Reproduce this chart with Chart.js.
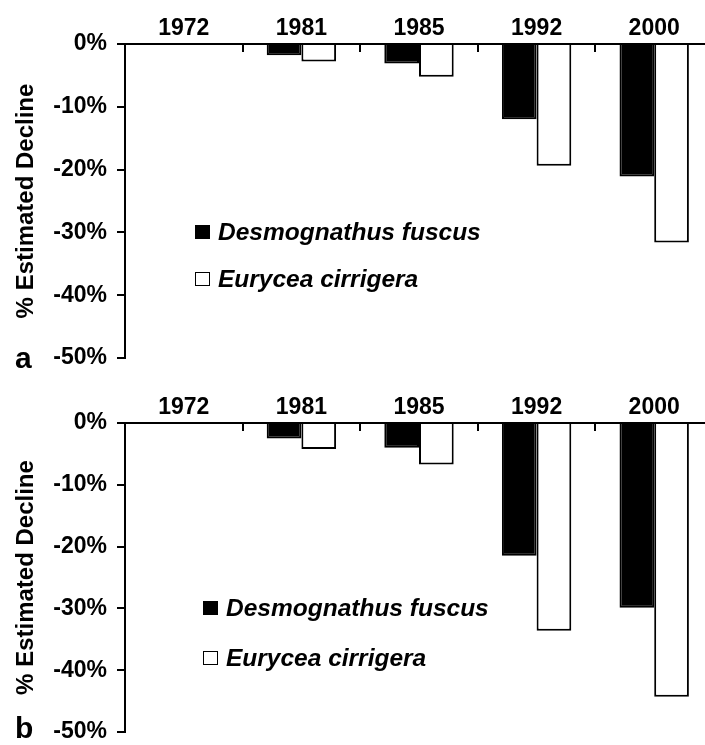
<!DOCTYPE html>
<html><head><meta charset="utf-8">
<script src="https://cdn.jsdelivr.net/npm/chart.js@4"></script>
<style>
html,body{margin:0;padding:0;background:#fff;overflow:hidden;width:705px;height:745px;position:relative;}
.panel{position:absolute;left:0;width:720px;}
canvas{display:block;}
.lbl{position:absolute;font:bold 30px "Liberation Sans",Arial,sans-serif;color:#000;line-height:1;}
.leg{position:absolute;white-space:nowrap;display:flex;align-items:center;height:30px;font:italic bold 24.5px "Liberation Sans",Arial,sans-serif;color:#000;}
.box{width:15px;height:14px;border:1.5px solid #000;box-sizing:border-box;margin-right:8px;flex:none;}
</style>
</head><body>
<div class="panel" style="top:0px;height:372px"><canvas id="cA" width="720" height="372"></canvas></div>
<div class="panel" style="top:372px;height:373px"><canvas id="cB" width="720" height="373"></canvas></div>
<div class="lbl" style="left:15px;top:343px">a</div>
<div class="lbl" style="left:15px;top:713px">b</div>
<div id="legends"></div>
<script>
// ---- data ----
const years = ['1972', '1981', '1985', '1992', '2000'];
const speciesNames = ['Desmognathus fuscus', 'Eurycea cirrigera'];
const fuscusA = [0, -1.8, -3.1, -12.0, -21.1];
const cirrigeraA = [0, -2.8, -5.2, -19.4, -31.6];
const fuscusB = [0, -2.5, -4.0, -21.5, -29.9];
const cirrigeraB = [0, -4.2, -6.7, -33.6, -44.3];
const yTickValues = [0, -10, -20, -30, -40, -50];
const yTitle = '% Estimated Decline';
const fills = ['#000000', '#ffffff'];

const FONT = '"Liberation Sans", Arial, Helvetica, sans-serif';

function makePanel(id, s1, s2, xHeight, padBottom) {
  return new Chart(document.getElementById(id), {
    type: 'bar',
    data: {
      labels: years,
      datasets: [
        { label: speciesNames[0], data: s1, backgroundColor: fills[0], borderColor: '#000', borderWidth: 2 },
        { label: speciesNames[1], data: s2, backgroundColor: fills[1], borderColor: '#000', borderWidth: 2 }
      ]
    },
    options: {
      responsive: false,
      animation: false,
      devicePixelRatio: 1,
      categoryPercentage: 0.59,
      barPercentage: 1.0,
      layout: { padding: { left: 0, right: 7, top: 0, bottom: padBottom } },
      plugins: { legend: { display: false }, tooltip: { enabled: false } },
      scales: {
        x: {
          position: 'top',
          offset: true,
          grid: { display: true, offset: true, drawOnChartArea: false, drawTicks: true, tickLength: -8, color: '#000', lineWidth: 2 },
          border: { display: true, color: '#000', width: 2 },
          ticks: { color: '#000', font: { family: FONT, size: 23, weight: 'bold' }, padding: 10, maxRotation: 0 },
          afterFit: s => { s.height = xHeight; s.paddingLeft = 0; s.paddingRight = 0; }
        },
        y: {
          min: -50, max: 0,
          afterBuildTicks: s => { s.ticks = yTickValues.map(v => ({ value: v })); },
          grid: { display: true, drawOnChartArea: false, drawTicks: true, tickLength: 8, color: '#000', lineWidth: 2 },
          border: { display: true, color: '#000', width: 2 },
          ticks: { color: '#000', font: { family: FONT, size: 23, weight: 'bold' }, padding: 10, callback: v => v + '%' },
          title: { display: true, text: yTitle, color: '#000', font: { family: FONT, size: 24, weight: 'bold' }, padding: { top: 12, bottom: 0 } },
          afterFit: s => { s.width = 125; s.paddingTop = 0; s.paddingBottom = 0; }
        }
      }
    }
  });
}

const chartA = makePanel('cA', fuscusA, cirrigeraA, 44, 14);
const chartB = makePanel('cB', fuscusB, cirrigeraB, 51, 13);

// HTML legends built from dataset labels/colours
const legendSpecs = [
  { chart: chartA, left: 195, centers: [232, 279] },
  { chart: chartB, left: 203, centers: [608, 658] }
];
const host = document.getElementById('legends');
legendSpecs.forEach(spec => {
  spec.chart.data.datasets.forEach((ds, i) => {
    const row = document.createElement('div');
    row.className = 'leg';
    row.style.left = spec.left + 'px';
    row.style.top = (spec.centers[i] - 15) + 'px';
    const b = document.createElement('span');
    b.className = 'box';
    b.style.background = ds.backgroundColor;
    row.appendChild(b);
    row.appendChild(document.createTextNode(ds.label));
    host.appendChild(row);
  });
});
</script>
</body></html>
